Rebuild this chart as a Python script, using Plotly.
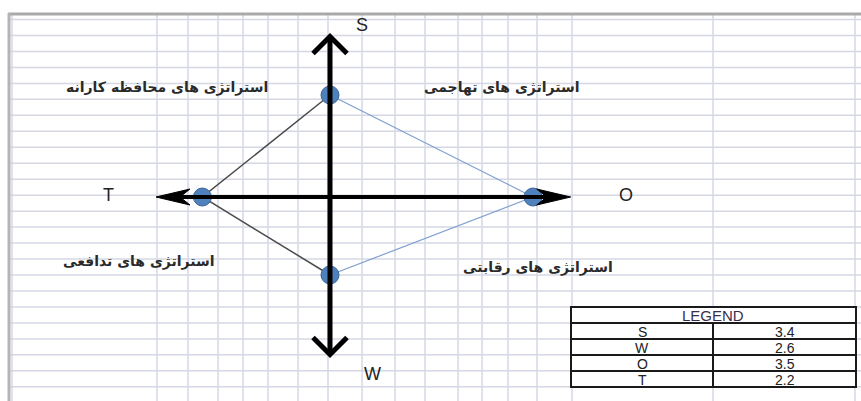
import plotly.graph_objects as go

# SWOT scores (from the legend table)
factors = ["S", "W", "O", "T"]
scores = [3.4, 2.6, 3.5, 2.2]

# strategy labels for each quadrant
strategy_labels = [
    "استراتژی های محافظه کارانه",
    "استراتژی های تهاجمی",
    "استراتژی های تدافعی",
    "استراتژی های رقابتی",
]

W, H = 861, 401
# pixel position of the origin and pixels per unit on each axis
X0PX, Y0PX = 330, 197
XS, YS = 58, 30


def px(x):
    return x / W


def py(y):
    return 1 - y / H


# place each factor on its own half-axis
direction = {"S": (0, 1), "W": (0, -1), "O": (1, 0), "T": (-1, 0)}
pts = {f: (direction[f][0] * v, direction[f][1] * v) for f, v in zip(factors, scores)}

fig = go.Figure()

# dark edges T-S and T-W
dark = ["S", "T", "W"]
fig.add_trace(go.Scatter(
    x=[pts[f][0] for f in dark], y=[pts[f][1] for f in dark],
    mode="lines", line=dict(color="#4a4a4a", width=1.5),
    hoverinfo="skip", showlegend=False,
))
# light blue edges S-O and O-W
light = ["S", "O", "W"]
fig.add_trace(go.Scatter(
    x=[pts[f][0] for f in light], y=[pts[f][1] for f in light],
    mode="lines", line=dict(color="#7f9fcf", width=1.2),
    hoverinfo="skip", showlegend=False,
))

shapes = []

# spreadsheet grid
grid_cols = [12, 157, 188, 218, 243, 268, 298, 328, 362, 395, 425,
             458, 482, 508, 537, 572, 713, 855]
for c in grid_cols:
    shapes.append(dict(type="line", xref="paper", yref="paper",
                       x0=px(c), x1=px(c), y0=py(15), y1=0,
                       line=dict(color="#d5d8e4", width=1.5), layer="below"))
for k in range(24):
    r = 19.5 + 15.97 * k
    shapes.append(dict(type="line", xref="paper", yref="paper",
                       x0=px(9), x1=1, y0=py(r), y1=py(r),
                       line=dict(color="#d5d8e4", width=1.5), layer="below"))

# grey frame top / left
shapes.append(dict(type="line", xref="paper", yref="paper",
                   x0=px(8), x1=1, y0=py(14), y1=py(14),
                   line=dict(color="#a9a9a9", width=3), layer="below"))
shapes.append(dict(type="line", xref="paper", yref="paper",
                   x0=px(9), x1=px(9), y0=py(13), y1=0,
                   line=dict(color="#b4b4b4", width=3), layer="below"))

# axes with arrows
v_top, v_bot = 5.35, -5.25
h_left, h_right = -3.0, 4.15
shapes.append(dict(type="line", xref="x", yref="y", x0=0, x1=0,
                   y0=v_bot + 0.1, y1=v_top - 0.1,
                   line=dict(color="black", width=5)))
shapes.append(dict(type="line", xref="x", yref="y", x0=h_left + 0.2, x1=h_right - 0.2,
                   y0=0, y1=0, line=dict(color="black", width=4)))
# chevrons on vertical axis
shapes.append(dict(type="path", xref="x", yref="y", xsizemode="pixel", ysizemode="pixel",
                   xanchor=0, yanchor=v_top, path="M-17,-17 L0,0 L17,-17",
                   line=dict(color="black", width=5)))
shapes.append(dict(type="path", xref="x", yref="y", xsizemode="pixel", ysizemode="pixel",
                   xanchor=0, yanchor=v_bot, path="M-17,17 L0,0 L17,17",
                   line=dict(color="black", width=5)))
# stealth heads on horizontal axis
shapes.append(dict(type="path", xref="x", yref="y", xsizemode="pixel", ysizemode="pixel",
                   xanchor=h_left, yanchor=0, path="M0,0 L34,8 L24,0 L34,-8 Z",
                   fillcolor="black", line=dict(color="black", width=1)))
shapes.append(dict(type="path", xref="x", yref="y", xsizemode="pixel", ysizemode="pixel",
                   xanchor=h_right, yanchor=0, path="M0,0 L-34,8 L-24,0 L-34,-8 Z",
                   fillcolor="black", line=dict(color="black", width=1)))

# legend table
tx0, tmid, tx1 = 571, 713, 856
row_y = [307, 323, 339, 355, 371, 387]
shapes.append(dict(type="rect", xref="paper", yref="paper",
                   x0=px(tx0), x1=px(tx1), y0=py(row_y[-1]), y1=py(row_y[0]),
                   fillcolor="white", line=dict(color="#1a1a1a", width=2)))
for r in row_y[1:-1]:
    shapes.append(dict(type="line", xref="paper", yref="paper",
                       x0=px(tx0), x1=px(tx1), y0=py(r), y1=py(r),
                       line=dict(color="#1a1a1a", width=2)))
shapes.append(dict(type="line", xref="paper", yref="paper",
                   x0=px(tmid), x1=px(tmid), y0=py(row_y[1]), y1=py(row_y[-1]),
                   line=dict(color="#1a1a1a", width=2)))

# points
fig.add_trace(go.Scatter(
    x=[pts[f][0] for f in factors], y=[pts[f][1] for f in factors],
    mode="markers",
    marker=dict(size=18, color="#4f81bd", line=dict(color="#3a6396", width=1)),
    hovertext=[f"{f}: {v}" for f, v in zip(factors, scores)], hoverinfo="text",
    showlegend=False,
))

annotations = []


def label(x, y, text, font):
    annotations.append(dict(x=px(x), y=py(y), xref="paper", yref="paper",
                            xanchor="center", yanchor="middle",
                            text=text, showarrow=False, font=font))


# axis letters
letter_pos = {"S": (362, 25), "O": (626, 195), "T": (108, 195), "W": (372, 374)}
for f in factors:
    label(*letter_pos[f], f, dict(family="Liberation Sans", size=18, color="#222222"))

# quadrant strategy labels
label_pos = [(167, 87), (502, 87), (139, 261), (538, 267)]
for txt, (lx, ly) in zip(strategy_labels, label_pos):
    label(lx, ly, "<b>" + txt + "</b>", dict(family="DejaVu Sans", size=14, color="#2a2a2a"))

# legend table text
tfont = "Liberation Sans"
label(tmid, (row_y[0] + row_y[1]) / 2 + 0.5, "LEGEND",
      dict(family=tfont, size=15, color="#3b2c4e"))
for i, (f, v) in enumerate(zip(factors, scores)):
    cy = (row_y[i + 1] + row_y[i + 2]) / 2 + 0.5
    label((tx0 + tmid) / 2, cy, f, dict(family=tfont, size=14, color="#222222"))
    label((tmid + tx1) / 2, cy, f"{v:.1f}", dict(family=tfont, size=14, color="#222222"))

fig.update_layout(
    width=W, height=H,
    margin=dict(l=0, r=0, t=0, b=0),
    paper_bgcolor="white", plot_bgcolor="white",
    xaxis=dict(range=[-X0PX / XS, (W - X0PX) / XS], visible=False, fixedrange=True),
    yaxis=dict(range=[-(H - Y0PX) / YS, Y0PX / YS], visible=False, fixedrange=True),
    shapes=shapes,
    annotations=annotations,
    showlegend=False,
)

fig.write_html("out.html", config={"displayModeBar": False},
               post_script="document.body.style.margin='0';")
